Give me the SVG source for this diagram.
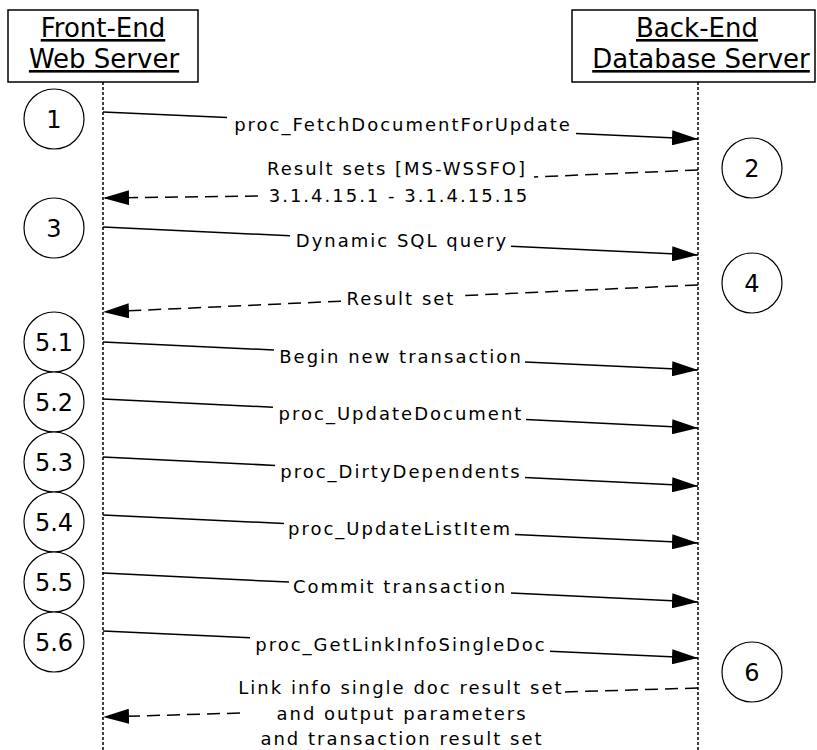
<svg xmlns="http://www.w3.org/2000/svg" width="817" height="750" viewBox="0 0 817 750">
<style>
  .box { fill: #fff; stroke: #000; stroke-width: 1.5; }
  .hdr { font-family: "DejaVu Sans", Verdana, sans-serif; font-size: 26px; fill: #000; text-anchor: middle; text-decoration: underline; }
  .life { stroke: #000; stroke-width: 1.5; stroke-dasharray: 3 2; fill: none; }
  .step { fill: #fff; stroke: #000; stroke-width: 1.2; }
  .num { font-family: "DejaVu Sans", Verdana, sans-serif; font-size: 24px; fill: #000; text-anchor: middle; }
  .lbl { font-family: "DejaVu Sans", Verdana, sans-serif; font-size: 18px; letter-spacing: 2px; fill: #000; text-anchor: middle; }
  .msg { fill: none; stroke: #000; stroke-width: 1.5; marker-end: url(#ah); }
  .ret { fill: none; stroke: #000; stroke-width: 1.5; stroke-dasharray: 13 7; marker-end: url(#ah); }
</style>
<defs>
  <marker id="ah" viewBox="0 0 26 15" refX="26" refY="7.5" markerWidth="26" markerHeight="15" markerUnits="userSpaceOnUse" orient="auto">
    <path d="M0,0 L26,7.5 L0,15 z" fill="#000" stroke="none"/>
  </marker>
</defs>
<rect width="817" height="750" fill="#fff"/>

<g id="frontend">
  <rect class="box" x="8" y="10" width="190" height="72"/>
  <text class="hdr" x="103" y="37">Front-End</text>
  <text class="hdr" x="104" y="68">Web Server</text>
  <line class="life" x1="103" y1="82" x2="103" y2="750"/>
</g>
<g id="backend">
  <rect class="box" x="572" y="10" width="243" height="72"/>
  <text class="hdr" x="697" y="37">Back-End</text>
  <text class="hdr" x="701" y="68">Database Server</text>
  <line class="life" x1="698" y1="82" x2="698" y2="750"/>
</g>

<g id="step1"><circle class="step" cx="54" cy="119" r="30"/><text class="num" x="54" y="128">1</text></g>
<g id="step2"><circle class="step" cx="752" cy="168" r="30"/><text class="num" x="752" y="177">2</text></g>
<g id="step3"><circle class="step" cx="54" cy="228" r="30"/><text class="num" x="54" y="237">3</text></g>
<g id="step4"><circle class="step" cx="752" cy="283" r="30"/><text class="num" x="752" y="292">4</text></g>
<g id="step5-1"><circle class="step" cx="54" cy="342" r="30"/><text class="num" x="54" y="351">5.1</text></g>
<g id="step5-2"><circle class="step" cx="54" cy="402" r="30"/><text class="num" x="54" y="411">5.2</text></g>
<g id="step5-3"><circle class="step" cx="54" cy="462" r="30"/><text class="num" x="54" y="471">5.3</text></g>
<g id="step5-4"><circle class="step" cx="54" cy="522" r="30"/><text class="num" x="54" y="531">5.4</text></g>
<g id="step5-5"><circle class="step" cx="54" cy="582" r="30"/><text class="num" x="54" y="591">5.5</text></g>
<g id="step5-6"><circle class="step" cx="54" cy="642" r="30"/><text class="num" x="54" y="651">5.6</text></g>
<g id="step6"><circle class="step" cx="752" cy="672" r="30"/><text class="num" x="752" y="681">6</text></g>

<g id="connectors">
  <path class="msg" d="M103,112 L227,117.6 M576,133.5 L698,139"/>
  <path class="ret" d="M698,170 L534,177 M258,196 L103,198"/>
  <path class="msg" d="M103,227 L290,235.8 M511,246.2 L698,255"/>
  <path class="ret" d="M698,285 L459,295.8 M341,301.2 L103,312"/>
  <path class="msg" d="M103,342 L274,350 M525,361.9 L698,370"/>
  <path class="msg" d="M103,399 L273,407.3 M526,419.6 L698,428"/>
  <path class="msg" d="M103,457 L275,465.4 M525,477.6 L698,486"/>
  <path class="msg" d="M103,515 L284,523.5 M515,534.4 L698,543"/>
  <path class="msg" d="M103,573 L289,582.1 M511,592.9 L698,602"/>
  <path class="msg" d="M103,631 L250,637.7 M550,651.3 L698,658"/>
  <path class="ret" d="M698,688 L564,692 M240,713 L103,717"/>
</g>

<g id="labels">
  <text class="lbl" x="403" y="131">proc_FetchDocumentForUpdate</text>
  <text class="lbl" x="397" y="175">Result sets [MS-WSSFO]</text>
  <text class="lbl" x="399" y="202">3.1.4.15.1 - 3.1.4.15.15</text>
  <text class="lbl" x="402" y="247">Dynamic SQL query</text>
  <text class="lbl" x="401" y="305">Result set</text>
  <text class="lbl" x="401" y="363">Begin new transaction</text>
  <text class="lbl" x="401" y="420">proc_UpdateDocument</text>
  <text class="lbl" x="401" y="478">proc_DirtyDependents</text>
  <text class="lbl" x="400" y="535">proc_UpdateListItem</text>
  <text class="lbl" x="400" y="593">Commit transaction</text>
  <text class="lbl" x="401" y="651">proc_GetLinkInfoSingleDoc</text>
  <text class="lbl" x="401" y="694">Link info single doc result set</text>
  <text class="lbl" x="402" y="720">and output parameters</text>
  <text class="lbl" x="402" y="745">and transaction result set</text>
</g>
</svg>
